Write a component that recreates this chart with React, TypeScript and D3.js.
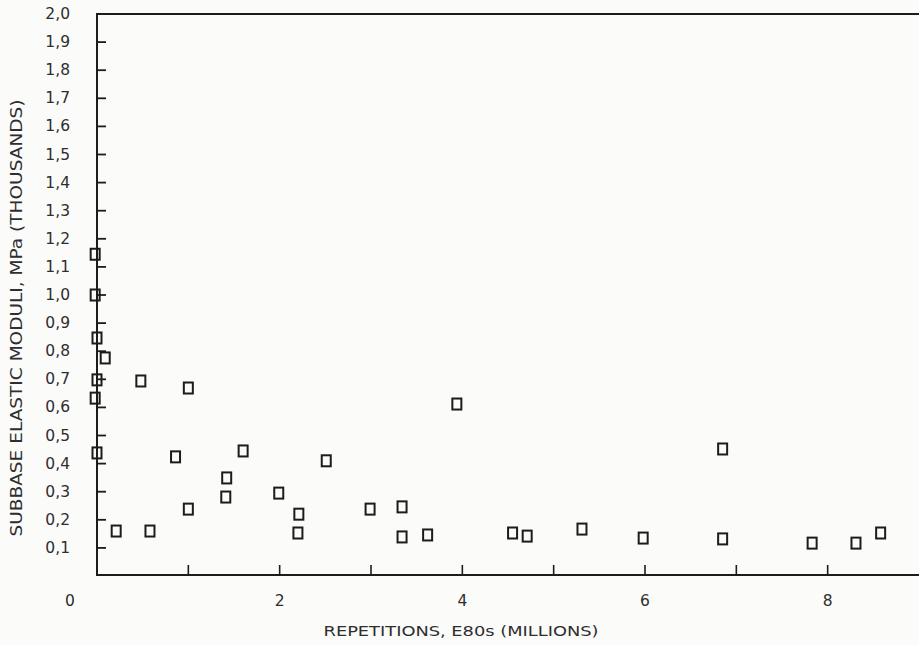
import React from "react";
import * as d3 from "d3";

const repetitionsMillions = [
  -0.02, -0.02, 0.0, 0.09, 0.0, -0.02, 0.0, 0.21, 0.58, 0.48, 1.0, 0.86, 1.0,
  1.6, 1.42, 1.41, 1.99, 2.21, 2.2, 2.51, 2.99, 3.34, 3.34, 3.62, 3.94, 4.55,
  4.71, 5.31, 5.98, 6.85, 6.85, 7.83, 8.31, 8.58,
];
const moduliThousandsMPa = [
  1.145, 1.0, 0.847, 0.776, 0.698, 0.633, 0.438, 0.16, 0.16, 0.694, 0.669,
  0.424, 0.238, 0.445, 0.349, 0.281, 0.295, 0.22, 0.153, 0.41, 0.238, 0.246,
  0.139, 0.146, 0.612, 0.153, 0.142, 0.167, 0.135, 0.452, 0.132, 0.117, 0.117,
  0.153,
];
const yTickValues = [0.1, 0.2, 0.3, 0.4, 0.5, 0.6, 0.7, 0.8, 0.9, 1.0, 1.1, 1.2, 1.3, 1.4, 1.5, 1.6, 1.7, 1.8, 1.9, 2.0];
const xTickValues = [1, 2, 3, 4, 5, 6, 7, 8];
const xLabelValues = [2, 4, 6, 8];
const xTitle = "REPETITIONS, E80s (MILLIONS)";
const yTitle = "SUBBASE ELASTIC MODULI, MPa (THOUSANDS)";

const W = 919;
const H = 645;
const left = 97;
const top = 14;
const bottom = 576;
const right = 919;

export default function App() {
  const x = d3.scaleLinear().domain([0, 9]).range([left, right]);
  const y = d3.scaleLinear().domain([0, 2]).range([bottom, top]);
  const fmt = (v: number) => d3.format(".1f")(v).replace(".", ",");
  const ink = "#1c1c1c";
  const txt = "#2e2e2e";
  const font = "'DejaVu Sans', sans-serif";
  const pts = repetitionsMillions.map((r, i) => ({ r, m: moduliThousandsMPa[i] }));
  const sw = 9;
  const sh = 11;
  return (
    <svg
      width={W}
      height={H}
      style={{ position: "absolute", left: 0, top: 0, background: "#fbfbfa" }}
    >
      {/* axes frame */}
      <line x1={left} x2={right} y1={top} y2={top} stroke={ink} strokeWidth={2.2} />
      <line x1={left} x2={left} y1={top - 1} y2={bottom} stroke={ink} strokeWidth={2} />
      <line x1={left - 1} x2={right} y1={bottom - 1} y2={bottom - 1} stroke={ink} strokeWidth={2} />

      {/* y ticks */}
      {yTickValues.map((v) => (
        <g key={"y" + v}>
          {v < 2 && (
            <line x1={left} x2={left + 9} y1={y(v)} y2={y(v)} stroke={ink} strokeWidth={1.8} />
          )}
          <text
            x={70}
            y={y(v)}
            textAnchor="end"
            dominantBaseline="central"
            fontFamily={font}
            fontSize={15.5}
            fill={txt}
          >
            {fmt(v)}
          </text>
        </g>
      ))}

      {/* x ticks */}
      {xTickValues.map((v) => (
        <line key={"x" + v} x1={x(v)} x2={x(v)} y1={bottom - 1} y2={bottom - 11} stroke={ink} strokeWidth={1.6} />
      ))}
      {xLabelValues.map((v) => (
        <text
          key={"xl" + v}
          x={x(v)}
          y={601}
          textAnchor="middle"
          dominantBaseline="central"
          fontFamily={font}
          fontSize={15.5}
          fill={txt}
        >
          {v}
        </text>
      ))}
      <text x={70} y={601} textAnchor="middle" dominantBaseline="central" fontFamily={font} fontSize={15.5} fill={txt}>
        0
      </text>

      {/* titles */}
      <text
        x={461}
        y={631}
        textAnchor="middle"
        dominantBaseline="central"
        fontFamily={font}
        fontSize={14}
        textLength={275}
        lengthAdjust="spacingAndGlyphs"
        fill={txt}
      >
        {xTitle}
      </text>
      <text
        transform={`translate(17,318) rotate(-90)`}
        textAnchor="middle"
        dominantBaseline="central"
        fontFamily={font}
        fontSize={15}
        textLength={437}
        lengthAdjust="spacingAndGlyphs"
        fill={txt}
      >
        {yTitle}
      </text>

      {/* points */}
      {pts.map((p, i) => (
        <rect
          key={i}
          x={x(p.r) - sw / 2}
          y={y(p.m) - sh / 2}
          width={sw}
          height={sh}
          fill="none"
          stroke={ink}
          strokeWidth={2}
        />
      ))}
    </svg>
  );
}
